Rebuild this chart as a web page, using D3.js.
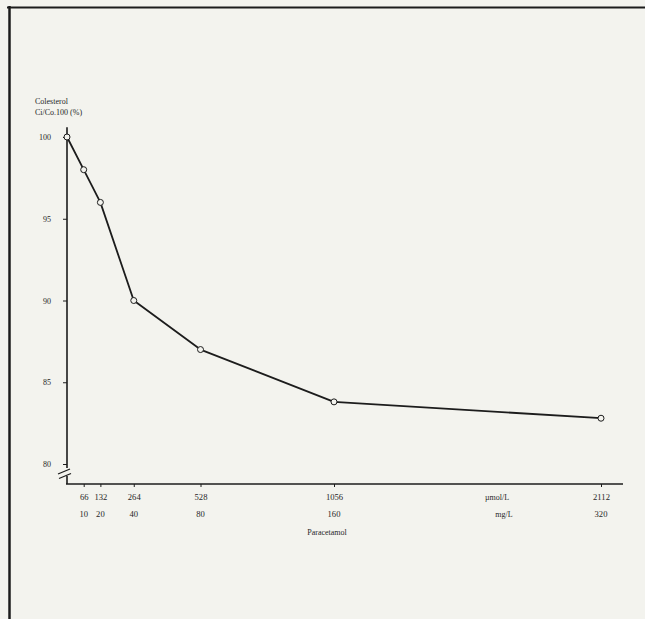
<!DOCTYPE html>
<html>
<head>
<meta charset="utf-8">
<script src="https://cdn.jsdelivr.net/npm/d3@7"></script>
<style>
html, body { margin: 0; padding: 0; background: #f3f3ee; }
svg { display: block; }
text { font-family: "Liberation Serif", "DejaVu Serif", serif; fill: #262626; font-size: 8px; }
.xt text, .mg { font-size: 8.6px; }
</style>
</head>
<body>
<svg id="chart" width="645" height="619"></svg>
<script>
// data
var concUmol   = [0, 66, 132, 264, 528, 1056, 2112];
var colesterol = [100, 98, 96, 90, 87, 83.8, 82.8];
var umolTicks  = [66, 132, 264, 528, 1056, 2112];
var mgTicks    = ["10", "20", "40", "80", "160", "320"];
var yTicks     = [80, 85, 90, 95, 100];
var yTitle     = ["Colesterol", "Ci/Co.100 (%)"];
var xTitle     = "Paracetamol";
var xUnits     = ["\u00b5mol/L", "mg/L"];

var svg = d3.select("#chart");
var ink = "#1c1c1c";

var x = d3.scaleLinear().domain([0, 2112]).range([67, 601]);
var y = d3.scaleLinear().domain([80, 100]).range([464, 137]);
var xAxisY = 484;

// page frame (scan border)
svg.append("path").attr("d", "M7,7.5H645").attr("stroke", ink).attr("stroke-width", 2).attr("fill", "none");
svg.append("path").attr("d", "M9.5,6V619").attr("stroke", ink).attr("stroke-width", 2.5).attr("fill", "none");

// y axis
var gy = svg.append("g").attr("transform", "translate(" + x(0) + ",0)")
    .style("color", ink)
    .call(d3.axisLeft(y).tickValues(yTicks).tickSize(4).tickPadding(12).tickSizeOuter(0).tickFormat(d3.format("d")));
gy.select(".domain").remove();
gy.selectAll(".tick line").attr("stroke-width", 1);
gy.selectAll(".tick text").attr("font-size", null).attr("font-family", null).attr("fill", null);

// axis line with a break near the bottom
svg.append("path")
    .attr("d", "M" + x(0) + "," + y(100.6) + "V468M" + x(0) + ",476V" + xAxisY)
    .attr("stroke", ink).attr("stroke-width", 1.6).attr("fill", "none");
svg.append("path")
    .attr("d", "M" + (x(0) - 9) + ",474L" + (x(0) + 3) + ",469M" + (x(0) - 8) + ",478.5L" + (x(0) + 4) + ",473.5")
    .attr("stroke", ink).attr("stroke-width", 1.3).attr("fill", "none");

// x axis
var gx = svg.append("g").attr("class", "xt").attr("transform", "translate(0," + xAxisY + ")")
    .style("color", ink)
    .call(d3.axisBottom(x).tickValues(umolTicks).tickSize(3).tickPadding(7).tickSizeOuter(0).tickFormat(d3.format("d")));
gx.select(".domain").remove();
gx.selectAll(".tick line").attr("stroke-width", 1);
gx.selectAll(".tick text").attr("font-size", null).attr("font-family", null).attr("fill", null);
svg.append("path")
    .attr("d", "M" + (x(0) - 1) + "," + xAxisY + "H623")
    .attr("stroke", ink).attr("stroke-width", 1.6).attr("fill", "none");

// second row: mg/L
svg.selectAll(".mg").data(umolTicks).enter().append("text")
    .attr("class", "mg")
    .attr("x", function (d) { return x(d); })
    .attr("y", 517)
    .attr("text-anchor", "middle")
    .text(function (d, i) { return mgTicks[i]; });

svg.append("text").attr("x", 497).attr("y", 500).attr("text-anchor", "middle").text(xUnits[0]);
svg.append("text").attr("x", 504).attr("y", 517).attr("text-anchor", "middle").text(xUnits[1]);
svg.append("text").attr("x", 327).attr("y", 535).attr("text-anchor", "middle").text(xTitle);

// y title
svg.selectAll(".ytitle").data(yTitle).enter().append("text")
    .attr("x", 35)
    .attr("y", function (d, i) { return 104 + i * 11; })
    .text(function (d) { return d; });

// the curve
var pts = concUmol.map(function (c, i) { return [c, colesterol[i]]; });
var line = d3.line().x(function (d) { return x(d[0]); }).y(function (d) { return y(d[1]); });
svg.append("path").datum(pts).attr("d", line)
    .attr("fill", "none").attr("stroke", ink).attr("stroke-width", 1.8).attr("stroke-linejoin", "round");

svg.selectAll(".pt").data(pts).enter().append("circle")
    .attr("class", "pt")
    .attr("cx", function (d) { return x(d[0]); })
    .attr("cy", function (d) { return y(d[1]); })
    .attr("r", 3)
    .attr("fill", "#f3f3ee").attr("stroke", ink).attr("stroke-width", 1);
</script>
</body>
</html>
